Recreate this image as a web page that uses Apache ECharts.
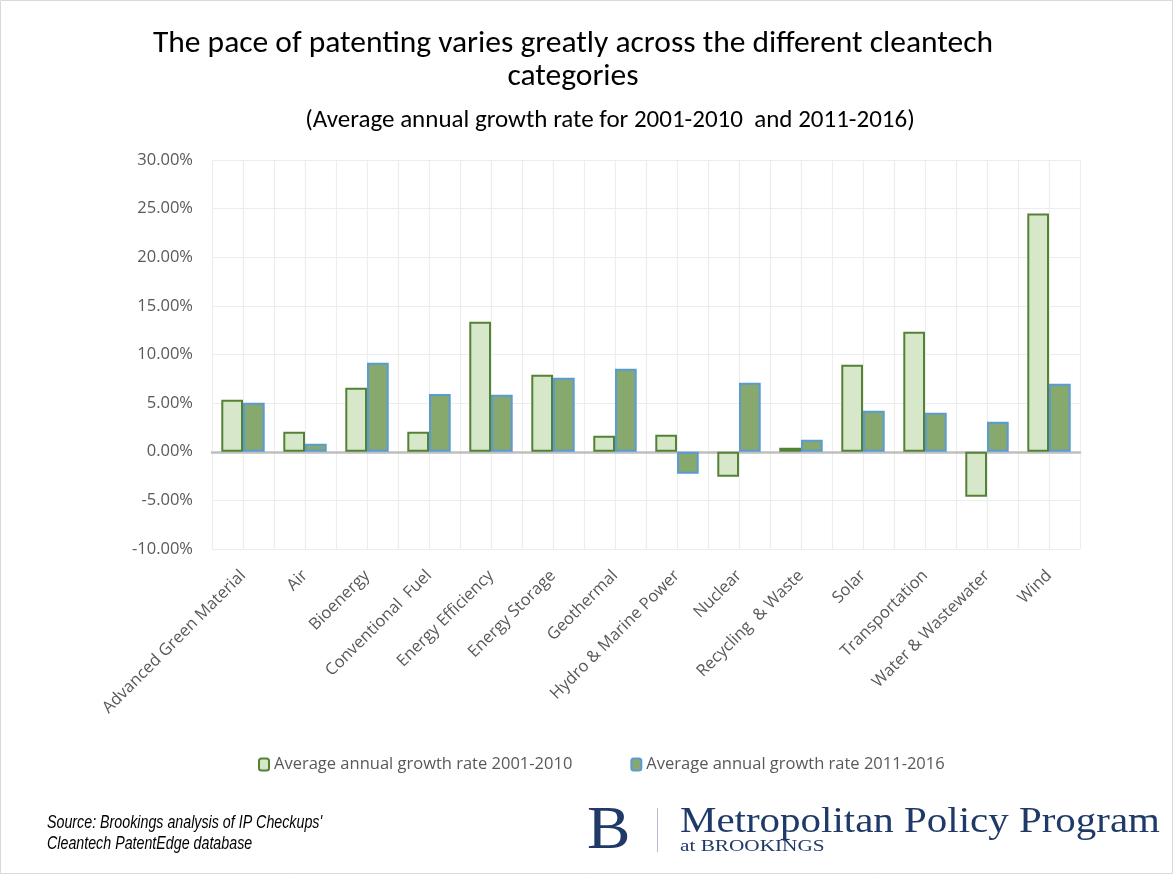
<!DOCTYPE html>
<html>
<head>
<meta charset="utf-8">
<script src="https://cdn.jsdelivr.net/npm/echarts@6/dist/echarts.min.js"></script>
<style>
  html, body { margin: 0; padding: 0; background: #fff; }
  #chart { width: 1174px; height: 875px; }
</style>
</head>
<body>
<div id="chart"></div>
<script>
const categories = [
  "Advanced Green Material", "Air", "Bioenergy", "Conventional  Fuel",
  "Energy Efficiency", "Energy Storage", "Geothermal", "Hydro & Marine Power",
  "Nuclear", "Recycling  & Waste", "Solar", "Transportation",
  "Water & Wastewater", "Wind"
];
const growth2001_2010 = [5.35, 2.06, 6.59, 2.06, 13.37, 7.92, 1.65, 1.75, -2.56, 0.42, 8.95, 12.35, -4.62, 24.5];
const growth2011_2016 = [5.05, 0.83, 9.16, 5.94, 5.87, 7.62, 8.54, -2.25, 7.10, 1.24, 4.22, 4.02, 3.09, 7.00];
const seriesNames = ["Average annual growth rate 2001-2010", "Average annual growth rate 2011-2016"];

const titleFont = "Carlito, Calibri, 'Open Sans', sans-serif";
const bodyFont = "'Open Sans', sans-serif";
const serifFont = "'Liberation Serif', 'DejaVu Serif', serif";
const navy = '#1f3a68';

const chart = echarts.init(document.getElementById('chart'), null, { renderer: 'canvas' });
chart.setOption({
  backgroundColor: '#ffffff',
  animation: false,
  title: [
    { text: 'The pace of patenting varies greatly across the different cleantech', left: 568, top: 23, textAlign: 'center',
      textStyle: { fontFamily: titleFont, fontSize: 31.5, fontWeight: 'normal', color: '#000' } },
    { text: 'categories', left: 568, top: 56, textAlign: 'center',
      textStyle: { fontFamily: titleFont, fontSize: 31.5, fontWeight: 'normal', color: '#000' } },
    { text: '(Average annual growth rate for 2001-2010  and 2011-2016)', left: 605, top: 103, textAlign: 'center',
      textStyle: { fontFamily: titleFont, fontSize: 25, fontWeight: 'normal', color: '#000' } }
  ],
  legend: {
    data: seriesNames,
    left: 253, top: 751,
    itemWidth: 10, itemHeight: 12, itemGap: 58,
    textStyle: { fontFamily: bodyFont, fontSize: 16.5, color: '#595959' }
  },
  grid: { left: 212, right: 94, top: 160, bottom: 326, containLabel: false },
  xAxis: [
    {
      type: 'category', data: categories, boundaryGap: true,
      axisLine: { onZero: true, lineStyle: { color: '#bfbfbf', width: 2.5 } },
      axisTick: { show: false },
      splitLine: { show: false },
      axisLabel: { rotate: 45, interval: 0, margin: 24, fontFamily: bodyFont, fontSize: 16.5, color: '#595959' }
    },
    {
      type: 'value', min: 0, max: 28, interval: 1, position: 'bottom',
      axisLine: { show: false }, axisTick: { show: false }, axisLabel: { show: false },
      splitLine: { show: true, lineStyle: { color: '#ededed', width: 1.2 } }
    }
  ],
  yAxis: {
    type: 'value', min: -10, max: 30, interval: 5,
    axisLine: { show: false }, axisTick: { show: false },
    axisLabel: { margin: 19, fontFamily: bodyFont, fontSize: 16.5, color: '#595959',
      formatter: v => v.toFixed(2) + '%' },
    splitLine: { lineStyle: { color: '#ededed', width: 1.2 } }
  },
  series: [
    {
      name: seriesNames[0], type: 'bar', data: growth2001_2010,
      barWidth: '35%', barGap: '0%',
      itemStyle: { color: '#d6e8c9', borderColor: '#548235', borderWidth: 2 }
    },
    {
      name: seriesNames[1], type: 'bar', data: growth2011_2016,
      barWidth: '35%', barGap: '0%',
      itemStyle: { color: '#87a96e', borderColor: '#5b9bd5', borderWidth: 2 }
    }
  ],
  graphic: [
    { type: 'rect', shape: { x: 0.5, y: 0.5, width: 1172, height: 873 }, style: { fill: 'none', stroke: '#d9d9d9', lineWidth: 1 }, silent: true },
    { type: 'text', x: 47, y: 823, scaleX: 0.75, style: { text: "Source: Brookings analysis of IP Checkups'", font: "italic 19px 'Liberation Sans', Arial, sans-serif", fill: '#000', textVerticalAlign: 'middle' } },
    { type: 'text', x: 47, y: 844, scaleX: 0.75, style: { text: 'Cleantech PatentEdge database', font: "italic 19px 'Liberation Sans', Arial, sans-serif", fill: '#000', textVerticalAlign: 'middle' } },
    { type: 'text', x: 587, y: 832, scaleX: 1.05, style: { text: 'B', font: "62px " + serifFont, fill: navy, textVerticalAlign: 'middle' } },
    { type: 'rect', shape: { x: 657, y: 808, width: 1, height: 44 }, style: { fill: '#b4bdcd' } },
    { type: 'text', x: 680, y: 823, scaleX: 1.17, style: { text: 'Metropolitan Policy Program', font: "35px " + serifFont, fill: navy, textVerticalAlign: 'middle' } },
    { type: 'text', x: 680, y: 847, scaleX: 1.25, style: { text: 'at BROOKINGS', font: "17px " + serifFont, fill: navy, textVerticalAlign: 'middle' } }
  ]
});
</script>
</body>
</html>
